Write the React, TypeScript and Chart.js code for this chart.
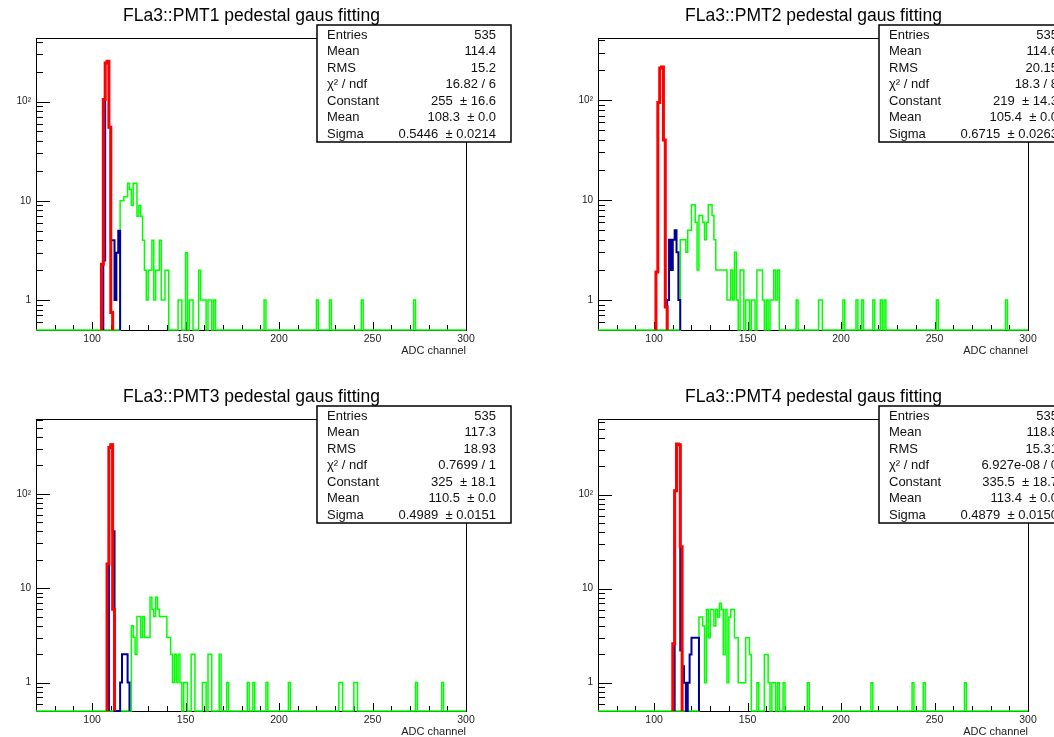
import React, { useEffect, useRef } from 'react';
import { Chart, registerables } from 'chart.js';

Chart.register(...registerables);

// ---------- axis ranges / ticks ----------
const X_MIN = 70;
const X_MAX = 300;
const Y_MIN = 0.5;
const xMajorTicks = [100, 150, 200, 250, 300];
const yMajorTicks = [1, 10, 100];
const yMinorTicks = [0.6, 0.7, 0.8, 0.9, 2, 3, 4, 5, 6, 7, 8, 9, 20, 30, 40, 50, 60, 70, 80, 90, 200, 300, 400, 500, 600, 700, 800, 900];
const xAxisTitle = 'ADC channel';

// ---------- PMT1 ----------
const pmt1Title = 'FLa3::PMT1 pedestal gaus fitting';
const pmt1YMax = 437;
const pmt1Red: [number, number][] = [[105, 2.3], [106, 105], [107, 245], [108, 255], [109, 55], [110, 0.75]];
const pmt1Blue: [number, number][] = [[106, 2.5], [107, 245], [108, 255], [109, 55], [110, 4], [111, 4], [112, 1], [113, 3], [114, 5]];
const pmt1Green: [number, number][] = [
  [115, 10], [116, 10], [117, 11], [118, 11], [119, 15], [120, 13], [121, 9], [122, 15], [123, 15], [124, 7],
  [125, 9], [126, 7], [127, 4], [128, 2], [129, 1], [130, 2], [131, 2], [132, 4], [133, 1], [134, 2],
  [135, 2], [136, 4], [137, 1], [138, 1], [139, 2], [140, 2], [146, 1], [147, 1], [150, 3], [152, 1],
  [153, 1], [157, 2], [158, 1], [159, 1], [160, 1], [162, 1], [163, 1], [165, 1], [192, 1], [220, 1],
  [227, 1], [244, 1], [272, 1],
];
const pmt1StatNames = ['Entries', 'Mean', 'RMS', 'χ² / ndf', 'Constant', 'Mean', 'Sigma'];
const pmt1StatValues = ['535', '114.4', '15.2', '16.82 / 6', '255  ± 16.6', '108.3  ± 0.0', '0.5446  ± 0.0214'];

// ---------- PMT2 ----------
const pmt2Title = 'FLa3::PMT2 pedestal gaus fitting';
const pmt2YMax = 420;
const pmt2Red: [number, number][] = [[101, 1.9], [102, 95], [103, 210], [104, 215], [105, 40], [106, 0.85]];
const pmt2Blue: [number, number][] = [[107, 1], [108, 4], [109, 2], [110, 4], [111, 5], [112, 3], [113, 1]];
const pmt2Green: [number, number][] = [
  [114, 4], [115, 4], [116, 4], [117, 3], [118, 5], [119, 5], [120, 9], [121, 9], [122, 6], [123, 2],
  [124, 7], [125, 7], [126, 6], [127, 4], [128, 6], [129, 9], [130, 9], [131, 7], [132, 4], [133, 2],
  [134, 2], [135, 2], [136, 2], [137, 2], [138, 2], [139, 1], [140, 1], [141, 2], [142, 1], [143, 3],
  [144, 1], [146, 2], [147, 2], [149, 1], [150, 1], [152, 1], [153, 1], [155, 2], [156, 2], [157, 2],
  [158, 1], [160, 1], [162, 1], [163, 1], [164, 2], [165, 1], [166, 2], [176, 1], [188, 1], [189, 1],
  [201, 1], [208, 1], [211, 1], [217, 1], [221, 1], [223, 1], [251, 1], [288, 1],
];
const pmt2StatNames = ['Entries', 'Mean', 'RMS', 'χ² / ndf', 'Constant', 'Mean', 'Sigma'];
const pmt2StatValues = ['535', '114.6', '20.15', '18.3 / 8', '219  ± 14.3', '105.4  ± 0.0', '0.6715  ± 0.0263'];

// ---------- PMT3 ----------
const pmt3Title = 'FLa3::PMT3 pedestal gaus fitting';
const pmt3YMax = 620;
const pmt3Red: [number, number][] = [[108, 18], [109, 310], [110, 330], [111, 6]];
const pmt3Blue: [number, number][] = [
  [109, 310], [110, 330], [111, 40], [112, 0], [113, 0], [114, 0], [115, 1], [116, 2], [117, 2], [118, 2], [119, 1],
];
const pmt3Green: [number, number][] = [
  [121, 4], [122, 3], [123, 2], [124, 5], [125, 5], [126, 3], [127, 5], [128, 3], [129, 3], [130, 3],
  [131, 8], [132, 6], [133, 5], [134, 8], [135, 6], [136, 5], [137, 5], [138, 5], [139, 5], [140, 3],
  [141, 3], [142, 2], [143, 1], [144, 2], [145, 1], [146, 2], [147, 1], [149, 1], [150, 1], [153, 2],
  [154, 2], [159, 1], [160, 1], [162, 2], [163, 2], [168, 2], [172, 1], [183, 1], [186, 1], [193, 1],
  [205, 1], [232, 1], [233, 1], [240, 1], [241, 1], [273, 1], [287, 1],
];
const pmt3StatNames = ['Entries', 'Mean', 'RMS', 'χ² / ndf', 'Constant', 'Mean', 'Sigma'];
const pmt3StatValues = ['535', '117.3', '18.93', '0.7699 / 1', '325  ± 18.1', '110.5  ± 0.0', '0.4989  ± 0.0151'];

// ---------- PMT4 ----------
const pmt4Title = 'FLa3::PMT4 pedestal gaus fitting';
const pmt4YMax = 638;
const pmt4Red: [number, number][] = [[110, 2.6], [111, 110], [112, 345], [113, 340], [114, 28]];
const pmt4Blue: [number, number][] = [
  [111, 110], [112, 345], [113, 340], [114, 2.2], [115, 1.5], [116, 1], [117, 0], [118, 1], [119, 2],
  [120, 3], [121, 3], [122, 3], [123, 3],
];
const pmt4Green: [number, number][] = [
  [124, 5], [125, 5], [126, 4], [127, 1], [128, 6], [129, 3], [130, 6], [131, 6], [132, 4], [133, 6],
  [134, 5], [135, 7], [136, 6], [137, 2], [138, 6], [139, 1], [140, 5], [141, 6], [142, 6], [143, 3],
  [144, 3], [145, 1], [146, 1], [147, 1], [148, 1], [149, 3], [150, 3], [151, 2], [155, 1], [159, 2],
  [160, 2], [161, 1], [163, 1], [164, 1], [166, 1], [169, 1], [182, 1], [216, 1], [238, 1], [244, 1],
  [266, 1],
];
const pmt4StatNames = ['Entries', 'Mean', 'RMS', 'χ² / ndf', 'Constant', 'Mean', 'Sigma'];
const pmt4StatValues = ['535', '118.8', '15.31', '6.927e-08 / 0', '335.5  ± 18.7', '113.4  ± 0.0', '0.4879  ± 0.0150'];

// ---------- helpers ----------
const FONT = '"Liberation Sans", Arial, Helvetica, sans-serif';

// Builds a ROOT-style histogram outline (points at bin low edges, step-drawn)
function outline(bins: [number, number][], from: number, to: number) {
  const map = new Map<number, number>(bins);
  const pts: { x: number; y: number }[] = [{ x: from, y: Y_MIN }];
  for (let ch = from; ch < to; ch++) {
    const c = map.get(ch) ?? 0;
    pts.push({ x: ch, y: c > Y_MIN ? c : Y_MIN });
  }
  const last = pts[pts.length - 1].y;
  pts.push({ x: to, y: last });
  pts.push({ x: to, y: Y_MIN });
  return pts;
}

function rangeOf(bins: [number, number][]): [number, number] {
  const chs = bins.map((b) => b[0]);
  return [Math.min(...chs), Math.max(...chs) + 1];
}

const decorPlugin = {
  id: 'rootDecor',
  beforeDatasetsDraw(chart: any) {
    const { ctx, chartArea: a, scales } = chart;
    const xs = scales.x;
    const ys = scales.y;
    const yMax = ys.max;
    ctx.save();
    ctx.strokeStyle = '#000';
    ctx.lineWidth = 1;
    ctx.strokeRect(a.left + 0.5, a.top + 0.5, a.right - a.left, a.bottom - a.top);
    ctx.beginPath();
    for (let v = X_MIN; v <= X_MAX; v += 10) {
      const px = Math.round(xs.getPixelForValue(v)) + 0.5;
      const len = v % 50 === 0 ? 8 : 5;
      ctx.moveTo(px, a.bottom);
      ctx.lineTo(px, a.bottom - len);
    }
    const all = [...yMajorTicks.map((v) => [v, 14]), ...yMinorTicks.map((v) => [v, 7])];
    for (const [v, len] of all) {
      if (v <= Y_MIN || v >= yMax) continue;
      const py = Math.round(ys.getPixelForValue(v)) + 0.5;
      ctx.moveTo(a.left, py);
      ctx.lineTo(a.left + len, py);
    }
    ctx.stroke();
    ctx.restore();
  },
  afterDraw(chart: any, _args: any, opts: any) {
    const { ctx } = chart;
    ctx.save();
    // stats box
    const bx = 317, by = 25, bw = 194, bh = 117;
    ctx.fillStyle = '#fff';
    ctx.fillRect(bx, by, bw, bh);
    ctx.strokeStyle = '#000';
    ctx.lineWidth = 1.5;
    ctx.strokeRect(bx, by, bw, bh);
    ctx.font = `13px ${FONT}`;
    ctx.fillStyle = '#111';
    ctx.textBaseline = 'middle';
    (opts.names as string[]).forEach((name, i) => {
      const y = 35 + i * 16.5;
      ctx.textAlign = 'left';
      ctx.fillText(name, bx + 10, y);
      ctx.textAlign = 'right';
      ctx.fillText(opts.values[i], bx + bw - 15, y);
    });
    // title
    ctx.font = `17.5px ${FONT}`;
    ctx.textAlign = 'center';
    ctx.textBaseline = 'alphabetic';
    ctx.fillStyle = '#000';
    ctx.fillText(opts.title, 251.5, 21);
    ctx.restore();
  },
};

type PanelCfg = {
  title: string;
  yMax: number;
  red: [number, number][];
  blue: [number, number][];
  green: [number, number][];
  names: string[];
  values: string[];
};

const panels: { cfg: PanelCfg; left: number; top: number }[] = [
  { cfg: { title: pmt1Title, yMax: pmt1YMax, red: pmt1Red, blue: pmt1Blue, green: pmt1Green, names: pmt1StatNames, values: pmt1StatValues }, left: 0, top: 0 },
  { cfg: { title: pmt2Title, yMax: pmt2YMax, red: pmt2Red, blue: pmt2Blue, green: pmt2Green, names: pmt2StatNames, values: pmt2StatValues }, left: 562, top: 0 },
  { cfg: { title: pmt3Title, yMax: pmt3YMax, red: pmt3Red, blue: pmt3Blue, green: pmt3Green, names: pmt3StatNames, values: pmt3StatValues }, left: 0, top: 381 },
  { cfg: { title: pmt4Title, yMax: pmt4YMax, red: pmt4Red, blue: pmt4Blue, green: pmt4Green, names: pmt4StatNames, values: pmt4StatValues }, left: 562, top: 381 },
];

function Panel({ cfg, left, top }: { cfg: PanelCfg; left: number; top: number }) {
  const ref = useRef<HTMLCanvasElement>(null);
  useEffect(() => {
    const [rLo, rHi] = rangeOf(cfg.red);
    const [bLo, bHi] = rangeOf(cfg.blue);
    const common = { stepped: true, pointRadius: 0, fill: false, clip: false as any, tension: 0, borderJoinStyle: 'miter' as const };
    const chart = new Chart(ref.current!, {
      type: 'line',
      data: {
        datasets: [
          { ...common, label: 'fit', data: outline(cfg.red, rLo, rHi), borderColor: '#ff0000', borderWidth: 3 },
          { ...common, label: 'pedestal', data: outline(cfg.blue, bLo, bHi), borderColor: '#000099', borderWidth: 2 },
          { ...common, label: 'all', data: outline(cfg.green, X_MIN, X_MAX), borderColor: '#00ff00', borderWidth: 1.5 },
        ],
      },
      options: {
        animation: false,
        responsive: false,
        devicePixelRatio: 1,
        events: [],
        layout: { padding: { left: 0, right: 61, top: 38, bottom: 0 } },
        plugins: {
          legend: { display: false },
          tooltip: { enabled: false },
          rootDecor: { title: cfg.title, names: cfg.names, values: cfg.values },
        } as any,
        scales: {
          x: {
            type: 'linear',
            min: X_MIN,
            max: X_MAX,
            grid: { display: false, drawTicks: false },
            border: { display: false },
            afterBuildTicks: (s: any) => { s.ticks = xMajorTicks.map((v) => ({ value: v })); },
            afterFit: (s: any) => { s.height = 38; },
            ticks: { font: { family: FONT, size: 10.5 }, color: '#222', padding: 3, maxRotation: 0, autoSkip: false },
            title: { display: true, text: xAxisTitle, align: 'end', color: '#222', font: { family: FONT, size: 11 }, padding: { top: 0, bottom: 10 } },
          },
          y: {
            type: 'logarithmic',
            min: Y_MIN,
            max: cfg.yMax,
            grid: { display: false, drawTicks: false },
            border: { display: false },
            afterBuildTicks: (s: any) => { s.ticks = yMajorTicks.map((v) => ({ value: v })); },
            afterFit: (s: any) => { s.width = 36; },
            ticks: {
              font: { family: FONT, size: 10 },
              color: '#222',
              padding: 5,
              callback: (v: any) => (Number(v) === 100 ? '10²' : String(v)),
            },
          },
        },
      } as any,
      plugins: [decorPlugin],
    });
    return () => chart.destroy();
  }, []);
  return (
    <canvas
      ref={ref}
      width={527}
      height={368}
      style={{ position: 'absolute', left, top, width: 527, height: 368 }}
    />
  );
}

export default function App() {
  return (
    <div style={{ position: 'fixed', left: 0, top: 0, width: 1054, height: 737, overflow: 'hidden', background: '#fff' }}>
      {panels.map((p, i) => (
        <Panel key={i} cfg={p.cfg} left={p.left} top={p.top} />
      ))}
    </div>
  );
}
